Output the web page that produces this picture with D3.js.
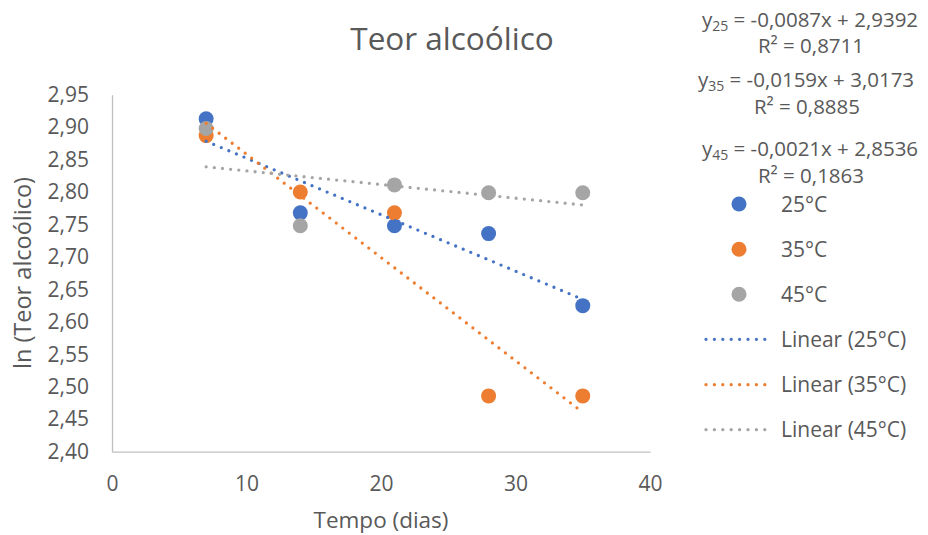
<!DOCTYPE html>
<html>
<head>
<meta charset="utf-8">
<script src="https://cdn.jsdelivr.net/npm/d3@7"></script>
<style>
  html, body { margin: 0; padding: 0; background: #fff; }
  svg text { font-family: "Open Sans", sans-serif; fill: #595959; }
</style>
</head>
<body>
<svg id="chart" width="928" height="535"></svg>
<script>
// Sampling days and ln(alcohol content) for each storage temperature
const days = [7, 14, 21, 28, 35];
const ln25 = [2.913, 2.768, 2.748, 2.736, 2.625];
const ln35 = [2.887, 2.800, 2.768, 2.486, 2.486];
const ln45 = [2.898, 2.748, 2.811, 2.799, 2.799];

// Fitted linear trends (slope, intercept, R²)
const slopes = [-0.0087, -0.0159, -0.0021];
const intercepts = [2.9392, 3.0173, 2.8536];
const r2 = [0.8711, 0.8885, 0.1863];

const seriesNames = ["25°C", "35°C", "45°C"];
const subscripts = ["25", "35", "45"];
const colors = ["#4472C4", "#ED7D31", "#A5A5A5"];
const xTicks = [0, 10, 20, 30, 40];
const yTicks = d3.range(0, 12).map(i => +(2.40 + i * 0.05).toFixed(2));

const values = [ln25, ln35, ln45];
const svg = d3.select("#chart");

// Portuguese number style: decimal comma, plain hyphen for negatives
const locale = d3.formatLocale({ decimal: ",", thousands: ".", grouping: [3], currency: ["", ""], minus: "-" });
const fmt2 = locale.format(".2f");
const fmt4 = locale.format(".4f");

const x = d3.scaleLinear().domain([0, 40]).range([112, 650]);
const y = d3.scaleLinear().domain([2.40, 2.95]).range([451.7, 94.7]);

// Title
svg.append("text").attr("x", 452).attr("y", 50).attr("text-anchor", "middle")
  .style("font-size", "31.5px").text("Teor alcoólico");

// Axes
const xAxis = svg.append("g").attr("transform", `translate(0,${y(2.40)})`)
  .call(d3.axisBottom(x).tickValues(xTicks).tickSize(0).tickPadding(24).tickFormat(d => d));
const yAxis = svg.append("g").attr("transform", `translate(${x(0)},0)`)
  .call(d3.axisLeft(y).tickValues(yTicks).tickSize(0).tickPadding(23).tickFormat(fmt2));
[xAxis, yAxis].forEach(g => {
  g.select(".domain").attr("stroke", "#BFBFBF").attr("stroke-width", 1.3);
  g.selectAll("text").style("font-size", "21px").style("font-family", "'Open Sans', sans-serif").attr("fill", "#595959");
});

// Axis titles
svg.append("text").attr("x", 381).attr("y", 528).attr("text-anchor", "middle")
  .style("font-size", "22.5px").text("Tempo (dias)");
svg.append("text").attr("transform", `translate(31,273) rotate(-90)`).attr("text-anchor", "middle")
  .style("font-size", "23.5px").text("ln (Teor alcoólico)");

// Markers
values.forEach((vals, i) => {
  svg.append("g").selectAll("circle").data(vals).join("circle")
    .attr("cx", (d, j) => x(days[j])).attr("cy", d => y(d))
    .attr("r", 7.5).attr("fill", colors[i]);
});

// Trend lines
const line = d3.line().x(d => x(d[0])).y(d => y(d[1]));
slopes.forEach((m, i) => {
  const x0 = d3.min(days), x1 = d3.max(days);
  svg.append("path")
    .attr("d", line([[x0, m * x0 + intercepts[i]], [x1, m * x1 + intercepts[i]]]))
    .attr("fill", "none").attr("stroke", colors[i]).attr("stroke-width", 3.3)
    .attr("stroke-linecap", "round").attr("stroke-dasharray", "0 8.2");
});

// Trend equations
const eqY = [[27, 53], [87, 114], [156, 183]];
const eqX = [810, 806, 810];
slopes.forEach((m, i) => {
  const t = svg.append("text").attr("x", eqX[i]).attr("y", eqY[i][0])
    .attr("text-anchor", "middle").style("font-size", "20.5px");
  t.append("tspan").text("y");
  t.append("tspan").attr("dy", 3.5).style("font-size", "14px").text(subscripts[i]);
  t.append("tspan").attr("dy", -3.5).text(` = ${fmt4(m)}x + ${fmt4(intercepts[i])}`);
  svg.append("text").attr("x", eqX[i] + 1).attr("y", eqY[i][1])
    .attr("text-anchor", "middle").style("font-size", "20.5px")
    .text(`R² = ${fmt4(r2[i])}`);
});

// Legend
const legY = [204, 249.3, 294.3, 339.3, 384.7, 429.7];
seriesNames.forEach((name, i) => {
  svg.append("circle").attr("cx", 739).attr("cy", legY[i]).attr("r", 7.5).attr("fill", colors[i]);
  svg.append("text").attr("x", 781).attr("y", legY[i] + 7.5).style("font-size", "21px").text(name);
});
seriesNames.forEach((name, i) => {
  const yy = legY[i + 3];
  svg.append("line").attr("x1", 706).attr("x2", 773).attr("y1", yy).attr("y2", yy)
    .attr("stroke", colors[i]).attr("stroke-width", 3.3)
    .attr("stroke-linecap", "round").attr("stroke-dasharray", "0 8.4");
  svg.append("text").attr("x", 781).attr("y", yy + 7.5).style("font-size", "21px").text(`Linear (${name})`);
});
</script>
</body>
</html>
